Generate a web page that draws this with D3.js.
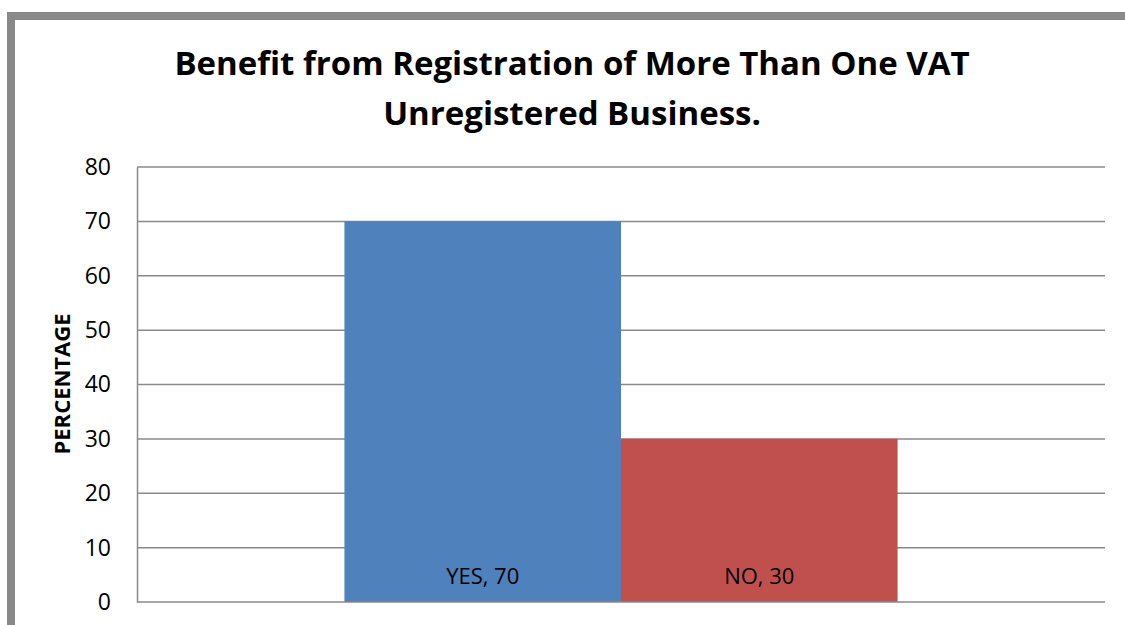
<!DOCTYPE html>
<html>
<head>
<meta charset="utf-8">
<script src="https://cdn.jsdelivr.net/npm/d3@7"></script>
<style>
  html, body { margin: 0; padding: 0; background: #fff; }
  svg { display: block; }
  text { font-family: "Open Sans", "Lato", sans-serif; fill: #000; }
</style>
</head>
<body>
<svg id="chart" width="1125" height="625"></svg>
<script>
// Survey answers
const categories = ["YES", "NO"];
const values = [70, 30];
const colors = ["#4F81BD", "#C0504D"];
const yTicks = [0, 10, 20, 30, 40, 50, 60, 70, 80];
const titleLines = ["Benefit from Registration of More Than One VAT", "Unregistered Business."];
const yTitle = "PERCENTAGE";

const svg = d3.select("#chart");
const W = 1125, H = 625;
const FONT = "'Open Sans', Lato, sans-serif";

// Frame border (top and left edges visible)
svg.append("rect").attr("x", 7).attr("y", 12).attr("width", W - 7).attr("height", 8).attr("fill", "#898989");
svg.append("rect").attr("x", 7).attr("y", 12).attr("width", 8).attr("height", H - 12).attr("fill", "#898989");

const plot = { left: 137, right: 1105, top: 167, bottom: 602 };

const y = d3.scaleLinear().domain([0, 80]).range([plot.bottom, plot.top]);
// One category group holding both series
const xGroup = d3.scaleBand().domain(["all"]).range([plot.left, plot.right]).paddingInner(0).paddingOuter(0.375);
const xSeries = d3.scaleBand().domain(categories).range([xGroup("all"), xGroup("all") + xGroup.bandwidth()]).padding(0);

// Gridlines
svg.append("g").selectAll("line").data(yTicks.filter(d => d > 0)).join("line")
  .attr("x1", plot.left).attr("x2", plot.right)
  .attr("y1", d => y(d)).attr("y2", d => y(d))
  .attr("stroke", "#8a8a8a").attr("stroke-width", 1.5);

// Bars
svg.append("g").selectAll("rect").data(categories).join("rect")
  .attr("x", d => xSeries(d)).attr("width", xSeries.bandwidth())
  .attr("y", (d, i) => y(values[i])).attr("height", (d, i) => y(0) - y(values[i]))
  .attr("fill", (d, i) => colors[i]);

// Data labels
svg.append("g").selectAll("text").data(categories).join("text")
  .attr("x", d => xSeries(d) + xSeries.bandwidth() / 2)
  .attr("y", y(0) - 27)
  .attr("text-anchor", "middle").attr("dominant-baseline", "central")
  .style("font-size", "22px")
  .text((d, i) => `${d}, ${values[i]}`);

// Y axis
const yAxis = d3.axisLeft(y).tickValues(yTicks).tickSize(0).tickPadding(26);
const gy = svg.append("g").attr("transform", `translate(${plot.left},0)`).call(yAxis);
gy.select(".domain").attr("stroke", "#8a8a8a").attr("stroke-width", 1.5);
gy.selectAll("text").style("font-size", "23px").style("font-family", FONT).attr("fill", "#000");

// X axis baseline
svg.append("line").attr("x1", plot.left).attr("x2", plot.right)
  .attr("y1", y(0)).attr("y2", y(0)).attr("stroke", "#8a8a8a").attr("stroke-width", 1.5);

// Y axis title
svg.append("text")
  .attr("transform", `translate(61,384) rotate(-90)`)
  .attr("text-anchor", "middle").attr("dominant-baseline", "central")
  .style("font-size", "22px").style("font-weight", "bold")
  .text(yTitle);

// Title
svg.append("g").selectAll("text").data(titleLines).join("text")
  .attr("x", 572).attr("y", (d, i) => 62 + i * 50)
  .attr("text-anchor", "middle").attr("dominant-baseline", "central")
  .style("font-size", "33px").style("font-weight", "bold")
  .text(d => d);
</script>
</body>
</html>
